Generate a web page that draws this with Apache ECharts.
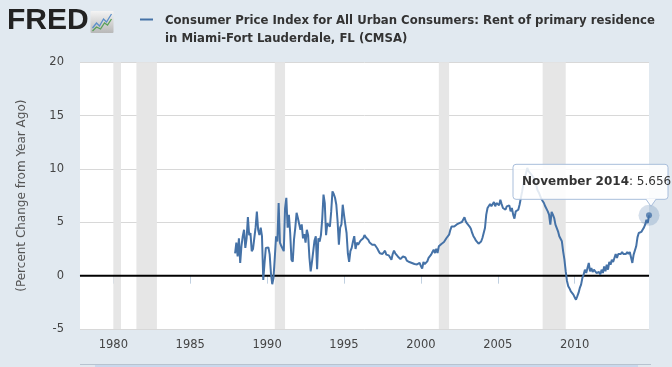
<!DOCTYPE html>
<html><head><meta charset="utf-8">
<script src="https://cdn.jsdelivr.net/npm/echarts@6/dist/echarts.min.js"></script>
<style>html,body{margin:0;padding:0;background:#e1e9f0;}#c{width:672px;height:367px;}</style>
</head><body><div id="c"></div>
<script>
const titleLines = ['Consumer Price Index for All Urban Consumers: Rent of primary residence', 'in Miami-Fort Lauderdale, FL (CMSA)'];
const yAxisTitle = '(Percent Change from Year Ago)';
const firstYear = 1987, firstMonth = 12;   // first observation: December 1987, monthly
const rentYoY = [
  2.1,
  3.1, 1.8, 3.5, 1.2, 2.8, 3.7, 4.3, 2.6, 3.5, 5.5, 3.8, 4.0,          // 1988
  2.3, 2.5, 2.6, 4.5, 6.0, 4.3, 3.8, 4.5, 3.7, -0.4, 1.2, 2.6,        // 1989
  2.45, 2.65, 2.0, 0.2, -0.8, -0.2, 1.7, 3.7, 3.2, 6.8, 3.1, 2.8,     // 1990
  2.9, 2.3, 6.3, 7.3, 4.5, 5.7, 4.0, 1.5, 1.3, 3.4, 4.5, 5.9,         // 1991
  5.4, 5.25, 4.3, 4.8, 3.5, 3.9, 3.1, 4.3, 3.8, 1.7, 0.4, 1.3,        // 1992
  2.3, 3.3, 3.7, 0.6, 3.5, 3.2, 3.8, 5.3, 7.6, 6.8, 3.8, 4.9,         // 1993
  4.8, 4.6, 6.0, 7.9, 7.65, 7.3, 6.65, 5.1, 2.9, 4.5, 4.8, 6.65,      // 1994
  5.7, 4.8, 4.0, 2.1, 1.3, 2.3, 2.6, 3.2, 3.7, 2.5, 3.1, 2.9,         // 1995
  3.1, 3.3, 3.2, 3.5, 3.8, 3.6, 3.5, 3.35, 3.1, 3.0, 2.9, 2.85,       // 1996
  2.9, 2.75, 2.55, 2.3, 2.1, 1.97, 2.03, 2.2, 2.34, 1.97, 1.85, 1.9,  // 1997
  1.7, 1.5, 2.03, 2.34, 2.1, 1.95, 1.8, 1.7, 1.55, 1.65, 1.8, 1.9,    // 1998
  1.7, 1.41, 1.35, 1.28, 1.25, 1.19, 1.12, 1.09, 1.1, 1.05, 0.97, 1.19, // 1999
  0.9, 0.66, 1.28, 1.09, 1.2, 1.34, 1.66, 1.8, 1.97, 2.22, 2.44, 2.12, // 2000
  2.53, 2.12, 2.75, 2.85, 2.97, 3.06, 3.15, 3.22, 3.53, 3.65, 3.84, 4.3, // 2001
  4.62, 4.47, 4.6, 4.78, 4.8, 4.84, 4.93, 4.95, 5.03, 5.09, 5.47, 5.09, // 2002
  4.9, 4.78, 4.6, 4.4, 4.0, 3.7, 3.5, 3.28, 3.15, 3.0, 2.84, 3.2,     // 2003
  3.53, 4.0, 4.47, 5.72, 6.34, 6.5, 6.72, 6.5, 6.6, 6.9, 6.5, 6.81,   // 2004
  6.97, 6.59, 7.12, 6.72, 6.34, 6.5, 6.18, 6.5, 6.34, 6.59, 6.03, 6.34, // 2005
  5.72, 5.34, 6.03, 5.97, 6.18, 6.65, 7.28, 7.9, 8.6, 9.2, 9.6, 10.1, // 2006
  9.8, 9.9, 9.5, 9.6, 9.2, 8.9, 8.5, 8.0, 7.8, 7.5, 7.2, 7.0,         // 2007
  6.81, 6.5, 6.34, 6.03, 5.72, 4.78, 5.97, 5.72, 5.4, 4.78, 4.62, 4.16, // 2008
  3.69, 3.53, 3.22, 2.28, 1.5, 0.4, -0.5, -1.0, -1.2, -1.47, -1.31, -1.78, // 2009
  -2.03, -2.25, -1.94, -1.62, -1.15, -0.84, -0.22, 0.1, 0.56, 0.25, 0.72, 1.19, // 2010
  0.41, 0.72, 0.34, 0.56, 0.45, 0.25, 0.41, 0.34, 0.1, 0.56, 0.25, 0.87, // 2011
  0.41, 1.03, 0.56, 1.28, 1.03, 1.5, 1.28, 1.41, 2.03, 1.66, 2.03, 2.12, // 2012
  2.03, 2.22, 2.03, 2.12, 2.03, 2.22, 2.03, 2.22, 2.1, 1.19, 1.97, 2.12, // 2013
  2.75, 3.59, 4.0, 4.16, 4.1, 4.31, 4.5, 4.78, 5.25, 4.93, 5.656      // 2014 (Jan-Nov)
];
const xTickYears = [1980, 1985, 1990, 1995, 2000, 2005, 2010];
const yTicks = [-5, 0, 5, 10, 15, 20];
const recessions = [[1980.0, 1980.5], [1981.5, 1982.833], [1990.5, 1991.167], [2001.167, 2001.833], [2007.917, 2009.417]];
const axisRange = [1977.833, 2014.833];
const monthNames = ['January','February','March','April','May','June','July','August','September','October','November','December'];

const t0 = firstYear + (firstMonth - 1) / 12;
const points = rentYoY.map((v, i) => [t0 + i / 12, v]);
const last = points[points.length - 1];
const lastMonthIdx = (firstMonth - 1 + rentYoY.length - 1);
const lastLabelDate = monthNames[lastMonthIdx % 12] + ' ' + (firstYear + Math.floor(lastMonthIdx / 12));

const BLUE = '#4572a7';
const FONT = "'DejaVu Sans', Verdana, sans-serif";

const chart = echarts.init(document.getElementById('c'), null, {renderer: 'canvas'});
chart.setOption({
  backgroundColor: '#e1e9f0',
  animation: false,
  title: {
    text: titleLines.join('\n'),
    left: 160, top: 7,
    textStyle: {fontFamily: "'DejaVu Sans Condensed', 'Liberation Sans Narrow', sans-serif", fontWeight: 'bold', fontSize: 13, color: '#333', lineHeight: 18}
  },
  grid: {left: 80, right: 23, top: 62.3, bottom: 38, show: true, backgroundColor: '#ffffff', borderWidth: 0},
  xAxis: {
    type: 'value', min: axisRange[0], max: axisRange[1],
    splitLine: {show: false},
    axisLine: {show: true, lineStyle: {color: '#c0d0e0', width: 1}},
    axisTick: {show: true, customValues: xTickYears, length: 8, lineStyle: {color: '#c0d0e0'}},
    axisLabel: {customValues: xTickYears, formatter: v => String(Math.round(v)), fontFamily: FONT, fontSize: 11.5, color: '#444', margin: 10}
  },
  yAxis: {
    type: 'value', min: yTicks[0], max: yTicks[yTicks.length - 1], interval: 5,
    axisLine: {show: false}, axisTick: {show: false},
    splitLine: {lineStyle: {color: '#d8d8d8', width: 1}},
    axisLabel: {fontFamily: FONT, fontSize: 11.5, color: '#444', margin: 16},
    name: yAxisTitle, nameLocation: 'middle', nameGap: 52, nameRotate: 90,
    nameTextStyle: {fontFamily: FONT, fontSize: 12, color: '#555'}
  },
  series: [
    {
      type: 'line', name: 'zero', data: [[axisRange[0], 0], [axisRange[1], 0]],
      showSymbol: false, silent: true, lineStyle: {color: '#000', width: 2}, z: 2,
      markArea: {silent: true, itemStyle: {color: '#e6e6e6'}, data: recessions.map(r => [{xAxis: r[0]}, {xAxis: r[1]}])}
    },
    {
      type: 'line', name: titleLines.join(' '), data: points, showSymbol: false,
      lineStyle: {color: BLUE, width: 2}, z: 3
    },
    {type: 'scatter', data: [last], symbolSize: 21, itemStyle: {color: 'rgba(69,114,167,0.28)'}, z: 4, silent: true},
    {type: 'scatter', data: [last], symbolSize: 6, itemStyle: {color: BLUE}, z: 5, silent: true}
  ]
});

const p = chart.convertToPixel({xAxisIndex: 0, yAxisIndex: 0}, last);
const bx0 = p[0] - 136, bx1 = p[0] + 19, by0 = p[1] - 51, by1 = p[1] - 16;
const tipX = p[0] + 2, tipY = p[1] - 9;
chart.setOption({
  graphic: [
    // FRED logo
    {type: 'text', left: 7, top: 6, style: {text: 'FRED', font: "bold 30px 'Liberation Sans', Arial, sans-serif", fill: '#222'}},
    {type: 'group', left: 90, top: 11, children: [
      {type: 'rect', shape: {x: 0, y: 0, width: 23, height: 22, r: 1},
       style: {fill: new echarts.graphic.LinearGradient(0, 0, 0, 1, [{offset: 0, color: '#f4f4f4'}, {offset: 1, color: '#b8b8b8'}])}},
      {type: 'polyline', shape: {points: [[2, 17], [6, 12], [9, 15], [13, 8], [16, 11], [21, 3]]}, style: {stroke: '#5b8fc9', lineWidth: 1.3, fill: null}},
      {type: 'polyline', shape: {points: [[2, 20], [6, 16], [10, 18], [14, 12], [17, 14], [21, 8]]}, style: {stroke: '#5aa05a', lineWidth: 1.3, fill: null}}
    ]},
    // legend dash
    {type: 'line', shape: {x1: 140, y1: 19.5, x2: 153, y2: 19.5}, style: {stroke: BLUE, lineWidth: 2}},
    // navigator strip at the bottom
    {type: 'rect', shape: {x: 80, y: 364, width: 571, height: 1}, style: {fill: '#b8c3cf'}},
    {type: 'rect', shape: {x: 95, y: 365, width: 543, height: 2}, style: {fill: '#c9d8ec'}},
    // tooltip
    {type: 'rect', shape: {x: bx0, y: by0, width: bx1 - bx0, height: by1 - by0, r: 3},
     style: {fill: 'rgba(255,255,255,0.85)', stroke: '#a9bedb', lineWidth: 1}, z: 100},
    {type: 'polygon', shape: {points: [[tipX - 5, by1 - 0.6], [tipX, tipY], [tipX + 5, by1 - 0.6]]}, style: {fill: '#fbfcfd'}, z: 101},
    {type: 'polyline', shape: {points: [[tipX - 5, by1], [tipX, tipY], [tipX + 5, by1]]}, style: {stroke: '#a9bedb', lineWidth: 1, fill: null}, z: 102},
    {type: 'text', x: bx0 + 9, y: (by0 + by1) / 2, z: 103,
     style: {text: '{b|' + lastLabelDate + '}{n|: ' + last[1].toFixed(3) + '}', verticalAlign: 'middle',
       rich: {b: {fontFamily: FONT, fontWeight: 'bold', fontSize: 12, fill: '#333'}, n: {fontFamily: FONT, fontSize: 12, fill: '#333'}}}}
  ]
});
</script></body></html>
